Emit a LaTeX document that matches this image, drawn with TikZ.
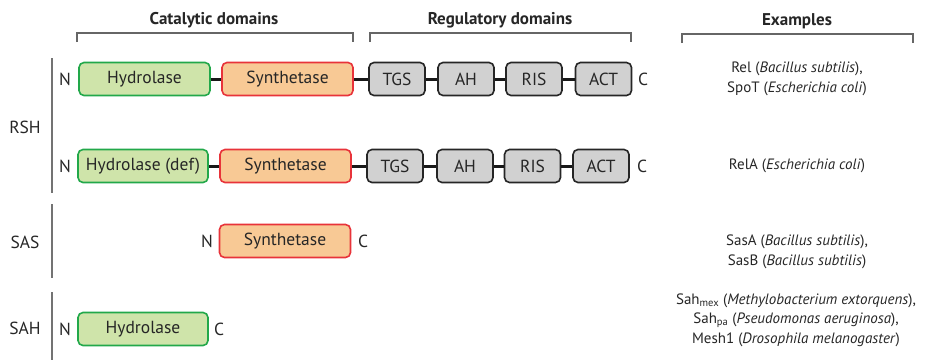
\documentclass[tikz,border=0pt]{standalone}
\usepackage{fontspec}
\setmainfont{PT Sans}
\begin{document}
\begin{tikzpicture}[x=1pt,y=-1pt,
  dom/.style={draw, rounded corners=5pt, line width=1.6pt, minimum height=33pt, inner sep=0pt, font=\fontsize{17.5}{20}\selectfont, text=black!85},
  hyd/.style={dom, draw={rgb,255:red,34;green,168;blue,74}, fill={rgb,255:red,207;green,228;blue,170}},
  syn/.style={dom, draw={rgb,255:red,232;green,51;blue,58}, fill={rgb,255:red,248;green,201;blue,149}},
  reg/.style={dom, draw=black!85, fill=black!18},
  lbl/.style={font=\fontsize{17.5}{20}\selectfont, text=black!85, inner sep=0pt},
  head/.style={font=\bfseries\fontsize{17}{20}\selectfont, text=black!85, inner sep=0pt},
  ex/.style={font=\fontsize{15}{19.5}\selectfont, text=black!85, align=center, inner sep=0pt},
  link/.style={line width=3pt, black!90},
  brk/.style={line width=1.2pt, black!60},
  vline/.style={line width=1.2pt, black!55}]
\useasboundingbox (0,0) rectangle (933,360);

% headers
\node[head] (hcat) at (214,20) {Catalytic domains};
\node[head] (hreg) at (500,20) {Regulatory domains};
\node[head] (hex) at (797,21) {Examples};
\draw[brk] (77,42) -- (77,33) -- (353,33) -- (353,42);
\draw[brk] (370,42) -- (370,33) -- (631,33) -- (631,42);
\draw[brk] (682,43) -- (682,34) -- (913,34) -- (913,43);

% left labels
\node[lbl] (rsh) at (25,127) {RSH};
\node[lbl] (sas) at (25,242) {SAS};
\node[lbl] (sah) at (25,328) {SAH};
\draw[vline] (52,58) -- (52,193);
\draw[vline] (52,204) -- (52,278);
\draw[vline] (52,292) -- (52,360);

% row 1
\node[hyd, minimum width=131pt] (h1) at (144.5,79) {Hydrolase};
\node[syn, minimum width=131pt] (s1) at (287.5,79) {Synthetase};
\node[reg, minimum width=56pt] (t1) at (397,79) {TGS};
\node[reg, minimum width=56pt] (a1) at (466,79) {AH};
\node[reg, minimum width=56pt] (r1) at (534,79) {RIS};
\node[reg, minimum width=56pt] (c1) at (603.5,79) {ACT};
\node[lbl] (n1) at (65,79) {N};
\node[lbl] (cc1) at (643,79) {C};
\draw[link] (h1) -- (s1);
\draw[link] (s1) -- (t1);
\draw[link] (t1) -- (a1);
\draw[link] (a1) -- (r1);
\draw[link] (r1) -- (c1);

% row 2
\node[hyd, minimum width=130pt] (h2) at (143,166) {Hydrolase (def)};
\node[syn, minimum width=131pt] (s2) at (285.5,166) {Synthetase};
\node[reg, minimum width=56pt] (t2) at (395,166) {TGS};
\node[reg, minimum width=56pt] (a2) at (465,166) {AH};
\node[reg, minimum width=56pt] (r2) at (532.5,166) {RIS};
\node[reg, minimum width=56pt] (c2) at (601,166) {ACT};
\node[lbl] (n2) at (65,166) {N};
\node[lbl] (cc2) at (642,166) {C};
\draw[link] (h2) -- (s2);
\draw[link] (s2) -- (t2);
\draw[link] (t2) -- (a2);
\draw[link] (a2) -- (r2);
\draw[link] (r2) -- (c2);

% row 3
\node[syn, minimum width=131pt] (s3) at (285,241) {Synthetase};
\node[lbl] (n3) at (207,241) {N};
\node[lbl] (cc3) at (363,241) {C};

% row 4
\node[hyd, minimum width=130pt] (h4) at (143,329) {Hydrolase};
\node[lbl] (n4) at (65,329) {N};
\node[lbl] (cc4) at (219,329) {C};

% examples
\node[ex] (e1) at (797,79) {Rel (\textit{Bacillus subtilis}),\\SpoT (\textit{Escherichia coli})};
\node[ex] (e2) at (797,166) {RelA (\textit{Escherichia coli})};
\node[ex] (e3) at (797,252) {SasA (\textit{Bacillus subtilis}),\\SasB (\textit{Bacillus subtilis})};
\node[ex] (e4) at (796,320) {Sah\textsubscript{mex} (\textit{Methylobacterium extorquens}),\\Sah\textsubscript{pa} (\textit{Pseudomonas aeruginosa}),\\Mesh1 (\textit{Drosophila melanogaster})};
\end{tikzpicture}
\end{document}
